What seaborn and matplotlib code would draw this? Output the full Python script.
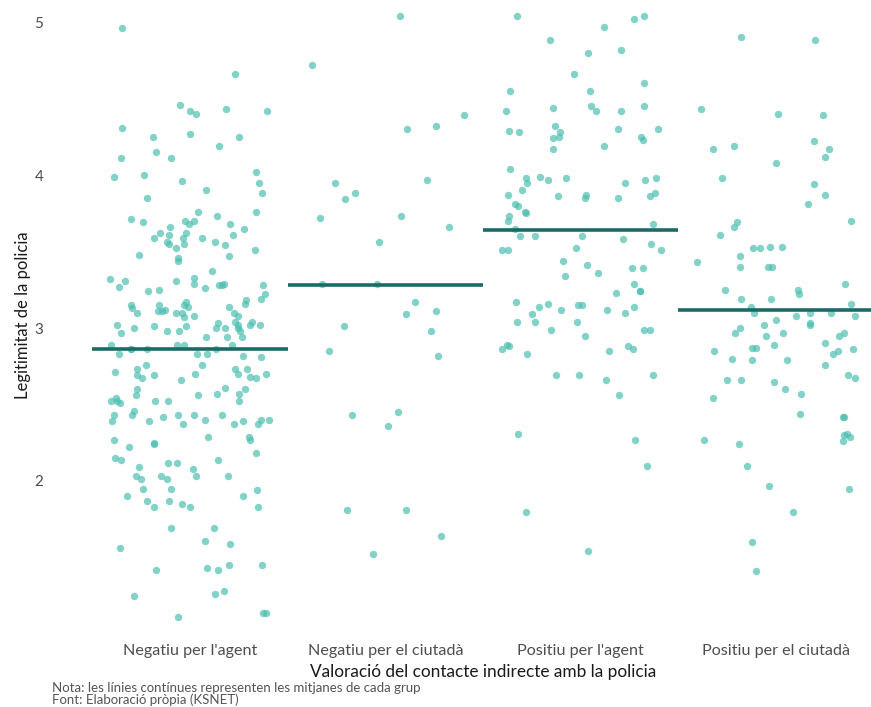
import matplotlib
matplotlib.use("Agg")
import matplotlib.pyplot as plt
import seaborn as sns
import numpy as np
import pandas as pd

categories = ["Negatiu per l'agent", "Negatiu per el ciutadà",
              "Positiu per l'agent", "Positiu per el ciutadà"]

neg_agent = [4.96, 4.66, 4.46, 4.43, 4.42, 4.40, 4.42, 4.31, 4.25, 4.27, 4.19, 4.25, 4.11, 4.11,
             4.15, 4.02, 4.00, 3.96, 3.95, 3.99, 3.90, 3.88, 3.85, 3.76, 3.76, 3.71, 3.70, 3.68,
             3.73, 3.70, 3.69, 3.68, 3.66, 3.62, 3.61, 3.65, 3.61, 3.62, 3.59, 3.59, 3.59, 3.56,
             3.56, 3.55, 3.55, 3.54, 3.52, 3.51, 3.48, 3.47, 3.46, 3.44, 3.37, 3.33, 3.31, 3.32,
             3.31, 3.29, 3.29, 3.28, 3.28, 3.28, 3.27, 3.25, 3.26, 3.24, 3.22, 3.19, 3.18, 3.17,
             3.16, 3.15, 3.15, 3.15, 3.14, 3.14, 3.13, 3.12, 3.11, 3.11, 3.10, 3.10, 3.10, 3.10,
             3.08, 3.08, 3.07, 3.04, 3.04, 3.03, 3.02, 3.02, 3.02, 3.02, 3.01, 3.01, 3.00, 3.00,
             3.00, 3.00, 2.97, 2.98, 2.98, 2.98, 2.94, 2.94, 2.94, 2.89, 2.89, 2.89, 2.89, 2.83,
             2.83, 2.83, 2.82, 2.81, 2.86, 2.86, 2.86, 2.86, 2.76, 2.76, 2.73, 2.73, 2.73, 2.71,
             2.70, 2.70, 2.70, 2.69, 2.69, 2.68, 2.67, 2.67, 2.66, 2.61, 2.60, 2.60, 2.57, 2.57,
             2.56, 2.56, 2.54, 2.52, 2.52, 2.52, 2.52, 2.52, 2.51, 2.46, 2.43, 2.43, 2.43, 2.43,
             2.43, 2.42, 2.40, 2.40, 2.40, 2.39, 2.39, 2.39, 2.37, 2.37, 2.37, 2.29, 2.29, 2.27,
             2.27, 2.25, 2.24, 2.22, 2.18, 2.15, 2.14, 2.14, 2.12, 2.12, 2.09, 2.08, 2.03, 2.03,
             2.03, 2.03, 2.01, 2.01, 1.95, 1.95, 1.94, 1.90, 1.90, 1.87, 1.87, 1.85, 1.83, 1.83,
             1.83, 1.69, 1.69, 1.61, 1.59, 1.56, 1.45, 1.45, 1.43, 1.42, 1.42, 1.28, 1.26, 1.25,
             1.14, 1.14, 1.11]

neg_ciutada = [5.04, 4.72, 4.39, 4.32, 4.30, 3.97, 3.95, 3.88, 3.84, 3.73, 3.72, 3.66, 3.56,
               3.29, 3.29, 3.17, 3.11, 3.09, 3.01, 2.98, 2.85, 2.82, 2.45, 2.43, 2.36, 1.81,
               1.81, 1.64, 1.52]

pos_agent = [5.04, 5.02, 5.04, 4.97, 4.88, 4.82, 4.80, 4.66, 4.60, 4.55, 4.55, 4.44, 4.42, 4.42,
             4.45, 4.45, 4.42, 4.32, 4.30, 4.28, 4.29, 4.30, 4.28, 4.25, 4.25, 4.24, 4.23, 4.19,
             4.17, 4.04, 3.99, 3.98, 3.98, 3.98, 3.97, 3.97, 3.95, 3.95, 3.90, 3.88, 3.87, 3.87,
             3.86, 3.86, 3.85, 3.85, 3.81, 3.80, 3.76, 3.75, 3.73, 3.70, 3.68, 3.65, 3.60, 3.60,
             3.60, 3.58, 3.55, 3.52, 3.51, 3.51, 3.51, 3.44, 3.41, 3.39, 3.39, 3.36, 3.34, 3.29,
             3.24, 3.24, 3.23, 3.17, 3.16, 3.15, 3.15, 3.14, 3.14, 3.12, 3.12, 3.10, 3.09, 3.04,
             3.04, 3.04, 2.99, 2.99, 2.99, 2.95, 2.89, 2.88, 2.88, 2.86, 2.86, 2.85, 2.83, 2.69,
             2.69, 2.69, 2.66, 2.56, 2.31, 2.27, 2.10, 1.80, 1.54]

pos_ciutada = [4.90, 4.88, 4.43, 4.40, 4.39, 4.22, 4.17, 4.17, 4.19, 4.12, 4.08, 3.98, 3.94,
               3.87, 3.81, 3.70, 3.69, 3.66, 3.61, 3.53, 3.52, 3.52, 3.53, 3.47, 3.43, 3.40,
               3.40, 3.40, 3.29, 3.25, 3.25, 3.22, 3.19, 3.19, 3.16, 3.14, 3.10, 3.10, 3.10,
               3.08, 3.08, 3.05, 3.03, 3.02, 3.02, 3.00, 2.97, 2.97, 2.97, 2.95, 2.95, 2.90,
               2.89, 2.87, 2.87, 2.86, 2.85, 2.85, 2.83, 2.80, 2.79, 2.79, 2.76, 2.69, 2.67,
               2.66, 2.66, 2.65, 2.60, 2.57, 2.54, 2.44, 2.42, 2.42, 2.31, 2.30, 2.29, 2.27,
               2.26, 2.24, 2.10, 1.97, 1.95, 1.80, 1.60, 1.41]

# means as drawn on the original (solid lines)
group_means = [2.86, 3.28, 3.64, 3.12]

groups = [neg_agent, neg_ciutada, pos_agent, pos_ciutada]
df = pd.DataFrame({
    "grup": np.repeat(categories, [len(g) for g in groups]),
    "legitimitat": np.concatenate(groups),
})

sns.set_theme(style="white")
plt.rcParams['font.family'] = ['Lato', 'DejaVu Sans']

W, H = 871, 707
fig = plt.figure(figsize=(W / 100, H / 100), dpi=100)
ax = fig.add_axes([60 / W, 77 / H, 811 / W, 630 / H])

np.random.seed(7)
sns.stripplot(data=df, x="grup", y="legitimitat", order=categories, jitter=0.41,
              size=5.3, color="#4dbfb0", alpha=0.7, linewidth=0, ax=ax)

# mean line per group
for i, m in enumerate(group_means):
    ax.hlines(m, i - 0.5, i + 0.5, color="#1c6a64", linewidth=2.6, zorder=5)

ax.set_xlim(-0.666, 3.486)
ax.set_ylim(1.026, 5.144)
ax.set_yticks([2, 3, 4, 5])
sns.despine(ax=ax, left=True, bottom=True)
ax.tick_params(axis="both", length=0, labelcolor="#4d4d4d")
ax.tick_params(axis="x", pad=10, labelsize=11.6)
ax.tick_params(axis="y", pad=12, labelsize=11)

ax.set_ylabel("Legitimitat de la policia", fontsize=12, color="#1a1a1a")
ax.yaxis.set_label_coords(-0.036, 0.5)
ax.set_xlabel("Valoració del contacte indirecte amb la policia", fontsize=12.4, color="#1a1a1a")
ax.xaxis.set_label_coords((483 - 60) / 811, -34 / 630)

fig.text(52 / W, 1 - 688 / H, "Nota: les línies contínues representen les mitjanes de cada grup",
         fontsize=9.5, color="#555555", va="center")
fig.text(52 / W, 1 - 700 / H, "Font: Elaboració pròpia (KSNET)",
         fontsize=9.5, color="#555555", va="center")

fig.savefig("out.png", dpi=100)
